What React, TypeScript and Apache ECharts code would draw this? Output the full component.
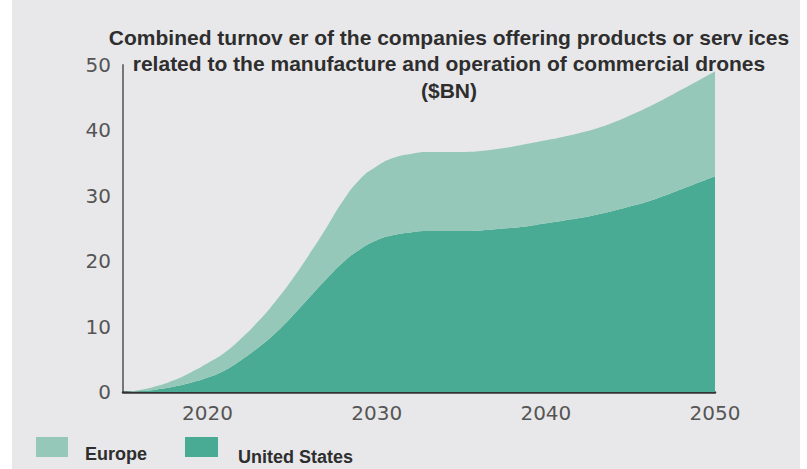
import React, { useEffect, useRef } from "react";
import * as echarts from "echarts";

const years = [
  2015, 2016, 2017, 2018, 2019, 2020, 2021, 2022, 2023, 2024, 2025, 2026,
  2027, 2028, 2029, 2030, 2031, 2032, 2033, 2034, 2035, 2036, 2037, 2038,
  2039, 2040, 2041, 2042, 2043, 2044, 2045, 2046, 2047, 2048, 2049, 2050,
];
const unitedStates = [
  0, 0.1, 0.4, 0.8, 1.4, 2.2, 3.3, 4.9, 6.8, 9.0, 11.6, 14.4,
  17.2, 19.8, 21.8, 23.2, 24.0, 24.4, 24.6, 24.6, 24.6, 24.7, 24.9, 25.1,
  25.4, 25.8, 26.2, 26.6, 27.1, 27.7, 28.4, 29.1, 30.0, 31.0, 32.0, 33.0,
];
const europe = [
  0, 0.2, 0.5, 1.0, 1.6, 2.2, 2.7, 3.3, 4.0, 4.8, 5.6, 6.6,
  7.8, 9.4, 10.7, 11.3, 11.8, 12.0, 12.1, 12.1, 12.1, 12.1, 12.2, 12.4,
  12.6, 12.7, 12.8, 13.0, 13.2, 13.5, 13.9, 14.4, 14.8, 15.2, 15.6, 16.0,
];
const xTickLabels = [2020, 2030, 2040, 2050];
const titleLines = [
  "Combined turnov er of the companies offering products or serv ices",
  "related to the manufacture and operation of commercial drones",
  "($BN)",
];
const legendNames = ["Europe", "United States"];

const EUROPE_COLOR = "#95c8b8";
const US_COLOR = "#4aab94";

export default function App() {
  const ref = useRef<HTMLDivElement>(null);
  useEffect(() => {
    document.body.style.margin = "0";
    const chart = echarts.init(ref.current!, undefined, { renderer: "svg" });
    const legendFont = "bold 18px 'Liberation Sans', Arial, sans-serif";
    const axisLabelStyle = {
      color: "#555",
      fontSize: 20,
      fontFamily: "DejaVu Sans, sans-serif",
    };
    chart.setOption({
      animation: false,
      backgroundColor: "#ffffff",
      graphic: [
        {
          type: "rect",
          z: -100,
          shape: { x: 12, y: 0, width: 788, height: 469 },
          style: { fill: "#e8e8ea" },
          silent: true,
        },
        {
          type: "text",
          z: 100,
          x: 449,
          y: 24,
          style: {
            text: titleLines.join("\n"),
            align: "center",
            verticalAlign: "top",
            font: "bold 21px 'Liberation Sans', Arial, sans-serif",
            lineHeight: 26.5,
            fill: "#2e2e2e",
          },
        },
        {
          type: "rect",
          shape: { x: 36, y: 437, width: 32, height: 20 },
          style: { fill: EUROPE_COLOR },
        },
        {
          type: "text",
          x: 85,
          y: 454,
          style: {
            text: legendNames[0],
            font: legendFont,
            fill: "#2e2e2e",
            verticalAlign: "middle",
          },
        },
        {
          type: "rect",
          shape: { x: 185, y: 437, width: 33, height: 20 },
          style: { fill: US_COLOR },
        },
        {
          type: "text",
          x: 238,
          y: 457,
          style: {
            text: legendNames[1],
            font: legendFont,
            fill: "#2e2e2e",
            verticalAlign: "middle",
          },
        },
      ],
      grid: { left: 123, right: 92, top: 65, bottom: 77, containLabel: false },
      xAxis: {
        type: "category",
        boundaryGap: false,
        data: years.map(String),
        axisLine: { show: true, lineStyle: { color: "#333", width: 2.5 } },
        axisTick: { show: false },
        splitLine: { show: false },
        axisLabel: {
          ...axisLabelStyle,
          interval: (_i: number, v: string) => xTickLabels.includes(Number(v)),
          margin: 11,
        },
      },
      yAxis: {
        type: "value",
        min: 0,
        max: 50,
        interval: 10,
        axisLine: { show: true, lineStyle: { color: "#777", width: 2 } },
        axisTick: { show: false },
        splitLine: { show: false },
        axisLabel: { ...axisLabelStyle, margin: 12 },
      },
      series: [
        {
          name: legendNames[1],
          type: "line",
          stack: "total",
          smooth: true,
          showSymbol: false,
          lineStyle: { width: 0 },
          itemStyle: { color: US_COLOR },
          areaStyle: { color: US_COLOR, opacity: 1 },
          data: unitedStates,
        },
        {
          name: legendNames[0],
          type: "line",
          stack: "total",
          smooth: true,
          showSymbol: false,
          lineStyle: { width: 0 },
          itemStyle: { color: EUROPE_COLOR },
          areaStyle: { color: EUROPE_COLOR, opacity: 1 },
          data: europe,
        },
      ],
    });
    return () => chart.dispose();
  }, []);
  return <div ref={ref} style={{ width: 807, height: 469 }} />;
}
